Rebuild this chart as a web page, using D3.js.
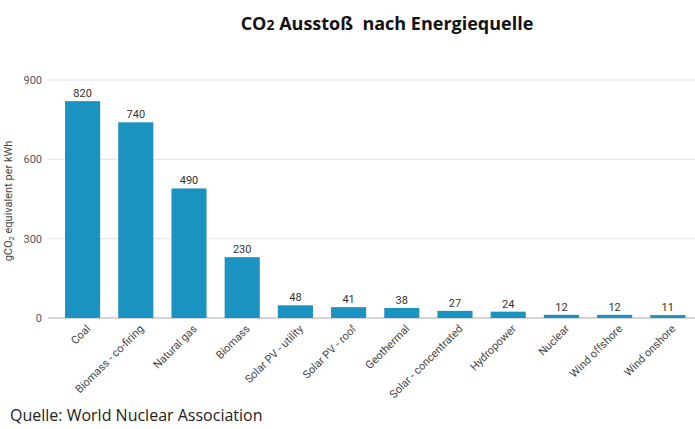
<!DOCTYPE html>
<html><head><meta charset="utf-8">
<script src="https://cdn.jsdelivr.net/npm/d3@7"></script>
<style>body{margin:0;background:#fff}svg{display:block}</style>
</head><body>
<script>
const categories = ["Coal","Biomass - co-firing","Natural gas","Biomass","Solar PV - utility","Solar PV - roof","Geothermal","Solar - concentrated","Hydropower","Nuclear","Wind offshore","Wind onshore"];
const values = [820,740,490,230,48,41,38,27,24,12,12,11];
const yTicks = [0,300,600,900];

const W = 695, H = 429;
const svg = d3.select("body").append("svg").attr("width", W).attr("height", H);

const x = d3.scaleBand().domain(categories).range([56, 694.4]).paddingInner(0.34).paddingOuter(0.17);
const y = d3.scaleLinear().domain([0, 900]).range([318, 80]);

// gridlines
svg.append("g").selectAll("line").data(yTicks).join("line")
  .attr("x1", 48).attr("x2", 695)
  .attr("y1", d => y(d)).attr("y2", d => y(d))
  .attr("stroke", d => d === 0 ? "#c8c8c8" : "#e2e2e2").attr("stroke-width", d => d === 0 ? 1.5 : 1);

// y tick labels
svg.append("g").selectAll("text").data(yTicks).join("text")
  .attr("x", 42).attr("y", d => y(d)).attr("dy", "0.35em")
  .attr("text-anchor", "end").attr("font-family", "Roboto, sans-serif").attr("font-size", 11)
  .attr("fill", "#555").text(d => d);

// bars
svg.append("g").selectAll("rect").data(values).join("rect")
  .attr("x", (d, i) => x(categories[i])).attr("width", x.bandwidth())
  .attr("y", d => y(d)).attr("height", d => y(0) - y(d))
  .attr("fill", "#1b93c0");

// value labels
svg.append("g").selectAll("text").data(values).join("text")
  .attr("x", (d, i) => x(categories[i]) + x.bandwidth() / 2).attr("y", d => y(d) - 4)
  .attr("text-anchor", "middle").attr("font-family", "Roboto, sans-serif").attr("font-size", 11)
  .attr("fill", "#333").text(d => d);

// x labels
svg.append("g").selectAll("text").data(categories).join("text")
  .attr("transform", d => `translate(${x(d) + x.bandwidth() / 2 + 3},${y(0) + 6}) rotate(-45)`)
  .attr("text-anchor", "end").attr("dy", "0.7em")
  .attr("font-family", "Roboto, sans-serif").attr("font-size", 11)
  .attr("fill", "#444").text(d => d);

// y axis title
const yt = svg.append("text").attr("transform", "translate(12,201) rotate(-90)")
  .attr("text-anchor", "middle").attr("font-family", "Roboto, sans-serif").attr("font-size", 11).attr("fill", "#444");
yt.append("tspan").text("gCO");
yt.append("tspan").attr("font-size", 7.5).attr("dy", 2).text("2");
yt.append("tspan").attr("dy", -2).text(" equivalent per kWh");

// title
const t = svg.append("text").attr("x", 387).attr("y", 30).attr("text-anchor", "middle")
  .attr("font-family", "'Open Sans', sans-serif").attr("font-weight", "bold").attr("font-size", 18).attr("fill", "#111");
t.append("tspan").text("CO");
t.append("tspan").attr("font-size", 14).text("2");
t.append("tspan").text(" Ausstoß\u00a0 nach Energiequelle");

// source
svg.append("text").attr("x", 10).attr("y", 421)
  .attr("font-family", "'Open Sans', sans-serif").attr("font-size", 16).attr("fill", "#222")
  .text("Quelle: World Nuclear Association");
</script>
</body></html>
